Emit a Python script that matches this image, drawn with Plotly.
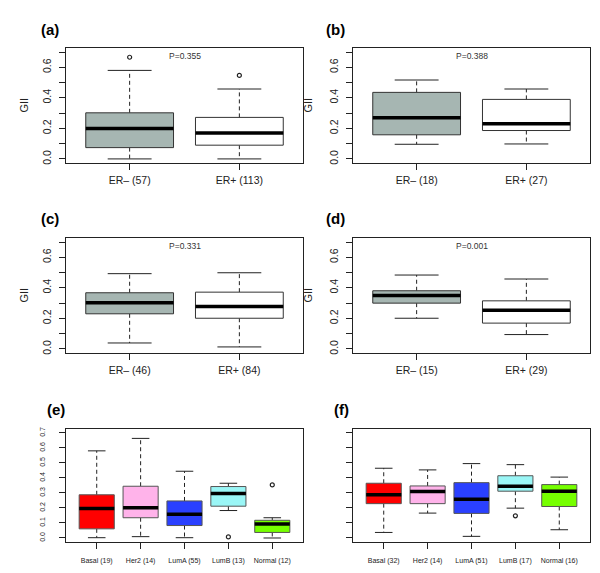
import plotly.graph_objects as go

# ---- data (GII per group) ----
er_labels_a = ["ER\u2013 (57)", "ER+ (113)"]
er_low_a = [0.0, 0.0]
er_q1_a = [0.074, 0.090]
er_med_a = [0.199, 0.169]
er_q3_a = [0.302, 0.272]
er_high_a = [0.580, 0.458]
er_out_a = [[0.666], [0.547]]

er_labels_b = ["ER\u2013 (18)", "ER+ (27)"]
er_low_b = [0.096, 0.098]
er_q1_b = [0.158, 0.186]
er_med_b = [0.269, 0.230]
er_q3_b = [0.436, 0.390]
er_high_b = [0.517, 0.458]
er_out_b = [[], []]

er_labels_c = ["ER\u2013 (46)", "ER+ (84)"]
er_low_c = [0.039, 0.013]
er_q1_c = [0.230, 0.201]
er_med_c = [0.302, 0.278]
er_q3_c = [0.368, 0.372]
er_high_c = [0.493, 0.499]
er_out_c = [[], []]

er_labels_d = ["ER\u2013 (15)", "ER+ (29)"]
er_low_d = [0.201, 0.094]
er_q1_d = [0.300, 0.169]
er_med_d = [0.350, 0.254]
er_q3_d = [0.381, 0.315]
er_high_d = [0.484, 0.458]
er_out_d = [[], []]

sub_labels_e = ["Basal (19)", "Her2 (14)", "LumA (55)", "LumB (13)", "Normal (12)"]
sub_low_e = [0.002, 0.009, 0.002, 0.183, 0.0]
sub_q1_e = [0.061, 0.135, 0.083, 0.212, 0.037]
sub_med_e = [0.197, 0.201, 0.159, 0.297, 0.094]
sub_q3_e = [0.288, 0.345, 0.247, 0.343, 0.118]
sub_high_e = [0.581, 0.664, 0.445, 0.365, 0.135]
sub_out_e = [[], [], [], [0.007], [0.354]]

sub_labels_f = ["Basal (32)", "Her2 (14)", "LumA (51)", "LumB (17)", "Normal (16)"]
sub_low_f = [0.037, 0.166, 0.011, 0.199, 0.055]
sub_q1_f = [0.229, 0.229, 0.164, 0.312, 0.210]
sub_med_f = [0.288, 0.310, 0.258, 0.345, 0.312]
sub_q3_f = [0.365, 0.347, 0.369, 0.415, 0.356]
sub_high_f = [0.465, 0.454, 0.496, 0.489, 0.406]
sub_out_f = [[], [], [], [0.148], []]

p_values = ["P=0.355", "P=0.388", "P=0.331", "P=0.001"]
panel_tags = ["(a)", "(b)", "(c)", "(d)", "(e)", "(f)"]

er_colors = ["#a6b6b2", "#ffffff"]
sub_colors = ["#ff0000", "#ffb3ea", "#2a40ff", "#9af6f6", "#76ff00"]

y_ticks = [0.0, 0.1, 0.2, 0.3, 0.4, 0.5, 0.6, 0.7]

FONT = "Liberation Sans, Arial, sans-serif"
INK = "#222222"

panels = [
    (er_labels_a, er_low_a, er_q1_a, er_med_a, er_q3_a, er_high_a, er_out_a, er_colors),
    (er_labels_b, er_low_b, er_q1_b, er_med_b, er_q3_b, er_high_b, er_out_b, er_colors),
    (er_labels_c, er_low_c, er_q1_c, er_med_c, er_q3_c, er_high_c, er_out_c, er_colors),
    (er_labels_d, er_low_d, er_q1_d, er_med_d, er_q3_d, er_high_d, er_out_d, er_colors),
    (sub_labels_e, sub_low_e, sub_q1_e, sub_med_e, sub_q3_e, sub_high_e, sub_out_e, sub_colors),
    (sub_labels_f, sub_low_f, sub_q1_f, sub_med_f, sub_q3_f, sub_high_f, sub_out_f, sub_colors),
]

# pixel frames of each plot region (left, right, top, bottom)
W, H = 600, 573
frames = [
    (58, 295, 38, 154), (345, 582, 38, 154),
    (58, 295, 229, 345), (345, 582, 229, 345),
    (58, 295, 421, 535), (345, 582, 421, 535),
]

fig = go.Figure()


def add_boxplot(fig, k, labels, low, q1, med, q3, high, outs, colors):
    xa = "x" if k == 1 else "x%d" % k
    ya = "y" if k == 1 else "y%d" % k
    edge = "#333333" if len(labels) == 2 else "#555555"
    for i in range(len(labels)):
        c = i + 1
        # dashed whiskers
        fig.add_trace(go.Scatter(
            x=[c, c, None, c, c], y=[q3[i], high[i], None, q1[i], low[i]],
            mode="lines", line=dict(color=INK, width=1, dash="4px,3px"),
            xaxis=xa, yaxis=ya, hoverinfo="skip"))
        # staples
        fig.add_trace(go.Scatter(
            x=[c - 0.2, c + 0.2, None, c - 0.2, c + 0.2],
            y=[high[i], high[i], None, low[i], low[i]],
            mode="lines", line=dict(color=INK, width=1),
            xaxis=xa, yaxis=ya, hoverinfo="skip"))
        # box
        fig.add_trace(go.Scatter(
            x=[c - 0.4, c + 0.4, c + 0.4, c - 0.4, c - 0.4],
            y=[q1[i], q1[i], q3[i], q3[i], q1[i]],
            mode="lines", fill="toself", fillcolor=colors[i],
            line=dict(color=edge, width=1),
            xaxis=xa, yaxis=ya, hoverinfo="skip"))
        # median
        fig.add_trace(go.Scatter(
            x=[c - 0.4, c + 0.4], y=[med[i], med[i]],
            mode="lines", line=dict(color="black", width=3.5),
            xaxis=xa, yaxis=ya, hoverinfo="skip"))
        if outs[i]:
            fig.add_trace(go.Scatter(
                x=[c] * len(outs[i]), y=outs[i], mode="markers",
                marker=dict(symbol="circle-open", size=4, color=INK,
                            line=dict(width=1.2)),
                xaxis=xa, yaxis=ya, hoverinfo="skip"))


layout = dict(
    width=W, height=H, margin=dict(l=0, r=0, t=0, b=0),
    paper_bgcolor="white", plot_bgcolor="white", showlegend=False,
    font=dict(family=FONT, color=INK),
)

annotations = []
for k, (p, fr) in enumerate(zip(panels, frames), start=1):
    labels, low, q1, med, q3, high, outs, colors = p
    add_boxplot(fig, k, labels, low, q1, med, q3, high, outs, colors)
    l, r, t, b = fr
    n = len(labels)
    small = n > 2
    xkey = "xaxis" if k == 1 else "xaxis%d" % k
    ykey = "yaxis" if k == 1 else "yaxis%d" % k
    layout[xkey] = dict(
        domain=[l / W, r / W], anchor="y" if k == 1 else "y%d" % k,
        range=[0.5 - 0.04 * n, n + 0.5 + 0.04 * n],
        tickvals=list(range(1, n + 1)), ticktext=labels,
        tickfont=dict(size=7 if small else 10.5, family=FONT, color=INK),
        ticks="outside", ticklen=6, tickcolor=INK,
        ticklabelstandoff=5 if small else 1,
        showline=True, mirror=True, linecolor=INK, linewidth=1,
        showgrid=False, zeroline=False, fixedrange=True,
    )
    if k == 6:
        ytext = [""] * len(y_ticks)
    elif small:
        ytext = ["%.1f" % v for v in y_ticks]
    else:
        ytext = ["%.1f" % v if i % 2 == 0 else "" for i, v in enumerate(y_ticks)]
    layout[ykey] = dict(
        domain=[1 - b / H, 1 - t / H], anchor="x" if k == 1 else "x%d" % k,
        range=[-0.028, 0.728], tickvals=y_ticks, ticktext=ytext,
        tickangle=-90,
        tickfont=dict(size=7 if small else 10.5, family=FONT, color=INK),
        ticks="outside", ticklen=6, tickcolor=INK,
        ticklabelstandoff=11 if small else 4,
        showline=True, mirror=True, linecolor=INK, linewidth=1,
        showgrid=False, zeroline=False, fixedrange=True,
    )
    # panel tag
    tag_x = {1: 31, 2: 316, 3: 31, 4: 316, 5: 37, 6: 324}[k]
    tag_y = {1: 20, 2: 20, 3: 210, 4: 210, 5: 402, 6: 402}[k]
    annotations.append(dict(
        text="<b>%s</b>" % panel_tags[k - 1], x=tag_x / W, y=1 - tag_y / H,
        xref="paper", yref="paper", xanchor="left", yanchor="middle",
        showarrow=False, font=dict(size=15, family=FONT, color="black")))
    if not small:
        annotations.append(dict(
            text=p_values[k - 1], x=0.5, y=0.93,
            xref="%s domain" % ("x" if k == 1 else "x%d" % k),
            yref="%s domain" % ("y" if k == 1 else "y%d" % k),
            xanchor="center", yanchor="middle", showarrow=False,
            font=dict(size=8.5, family=FONT, color="#333333")))
        gx = 16 if k in (1, 3) else 300
        annotations.append(dict(
            text="GII", x=gx / W, y=1 - ((t + b) / 2) / H,
            xref="paper", yref="paper", xanchor="center", yanchor="middle",
            textangle=-90, showarrow=False,
            font=dict(size=11, family=FONT, color=INK)))

layout["annotations"] = annotations
fig.update_layout(**layout)

fig.write_html("out.html")
